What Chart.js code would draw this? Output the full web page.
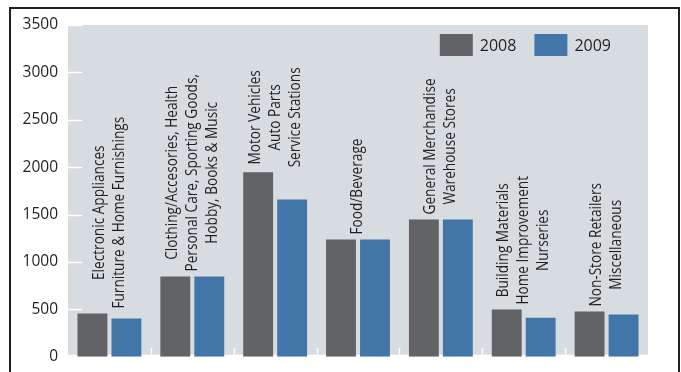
<!DOCTYPE html>
<html>
<head>
<meta charset="utf-8">
<script src="https://cdn.jsdelivr.net/npm/chart.js@4.4.1/dist/chart.umd.min.js"></script>
<style>
  body { margin: 0; background: #fff; }
  #wrap { position: relative; width: 681px; height: 372px; overflow: hidden; }
  #frame { position: absolute; left: 9px; top: 7px; width: 667px; height: 400px;
           border: 2px solid #231f20; border-bottom: none; }
  #myChart { position: absolute; left: 0; top: 0; }
</style>
</head>
<body>
<div id="wrap">
  <div id="frame"></div>
  <!-- a bit taller than the window: the y axis keeps ~19px under the plot -->
  <canvas id="myChart" width="681" height="376"></canvas>
</div>
<script>
const categories = [
  ['Electronic Appliances', 'Furniture & Home Furnishings'],
  ['Clothing/Accesories, Health', 'Personal Care, Sporting Goods,', 'Hobby, Books & Music'],
  ['Motor Vehicles', 'Auto Parts', 'Service Stations'],
  ['Food/Beverage'],
  ['General Merchandise', 'Warehouse Stores'],
  ['Building Materials', 'Home Improvement', 'Nurseries'],
  ['Non-Store Retailers', 'Miscellaneous']
];
const sales2008 = [455, 846, 1945, 1237, 1448, 497, 476];
const sales2009 = [402, 846, 1660, 1237, 1448, 412, 444];
const yMax = 3500;
const yStep = 500;

const FONT = '"Open Sans", sans-serif';
const TEXT = '#231f20';

// gray plot background + white inward ticks
const plotDecor = {
  id: 'plotDecor',
  beforeDraw(chart) {
    const {ctx, chartArea: a, scales: {x, y}} = chart;
    ctx.save();
    ctx.fillStyle = '#d6dcdf';
    ctx.fillRect(a.left, a.top, a.right - a.left, a.bottom - a.top - 2);
    ctx.strokeStyle = '#ffffff';
    ctx.lineWidth = 1.5;
    y.ticks.forEach(t => {
      if (t.value === 0) return;
      const py = Math.round(y.getPixelForValue(t.value)) + 0.5;
      ctx.beginPath();
      ctx.moveTo(a.left - 1, py);
      ctx.lineTo(a.left + 14, py);
      ctx.stroke();
    });
    for (let i = 0; i < categories.length - 1; i++) {
      const px = Math.round((x.getPixelForValue(i) + x.getPixelForValue(i + 1)) / 2) + 0.5;
      ctx.beginPath();
      ctx.moveTo(px, a.bottom - 9);
      ctx.lineTo(px, a.bottom - 2);
      ctx.stroke();
    }
    ctx.restore();
  }
};

// legend inside the plot, top right
const innerLegend = {
  id: 'innerLegend',
  afterDatasetsDraw(chart) {
    const {ctx, chartArea: a} = chart;
    ctx.save();
    ctx.font = '16px ' + FONT;
    ctx.textBaseline = 'middle';
    ctx.textAlign = 'left';
    const sets = chart.data.datasets;
    const bw = 33, bh = 22, gap = 7, space = 18;
    let total = 0;
    sets.forEach((d, i) => {
      total += bw + gap + ctx.measureText(d.label).width + (i ? space : 0);
    });
    let px = a.right - 37 - total;
    const top = a.top + 9;
    sets.forEach(d => {
      ctx.fillStyle = d.backgroundColor;
      ctx.fillRect(px, top, bw, bh);
      ctx.fillStyle = TEXT;
      ctx.fillText(d.label, px + bw + gap, top + bh / 2 + 1);
      px += bw + gap + ctx.measureText(d.label).width + space;
    });
    ctx.restore();
  }
};

// rotated category names above each group (condensed look)
const catLabels = {
  id: 'catLabels',
  afterDatasetsDraw(chart) {
    const {ctx, scales: {x, y}} = chart;
    const squeeze = 0.88;
    ctx.save();
    ctx.font = '15.5px ' + FONT;
    ctx.fillStyle = TEXT;
    ctx.textAlign = 'center';
    ctx.textBaseline = 'middle';
    const lh = 20;
    categories.forEach((lines, i) => {
      const top = y.getPixelForValue(Math.max(sales2008[i], sales2009[i])) - 5;
      const w = Math.max(...lines.map(s => ctx.measureText(s).width));
      ctx.save();
      ctx.translate(x.getPixelForValue(i), top);
      ctx.rotate(-Math.PI / 2);
      ctx.scale(squeeze, 1);
      lines.forEach((s, j) => {
        ctx.fillText(s, w / 2, (j - (lines.length - 1) / 2) * lh);
      });
      ctx.restore();
    });
    ctx.restore();
  }
};

new Chart(document.getElementById('myChart'), {
  type: 'bar',
  data: {
    labels: categories,
    datasets: [{
      label: '2008',
      data: sales2008,
      backgroundColor: '#626366',
      categoryPercentage: 0.82,
      barPercentage: 0.88
    }, {
      label: '2009',
      data: sales2009,
      backgroundColor: '#4376a8',
      categoryPercentage: 0.82,
      barPercentage: 0.88
    }]
  },
  options: {
    responsive: false,
    animation: false,
    layout: { padding: { left: 0, right: 33, top: 25, bottom: 15 } },
    plugins: {
      tooltip: { enabled: false },
      legend: { display: false }
    },
    scales: {
      x: {
        display: false
      },
      y: {
        min: 0,
        max: yMax,
        grid: { display: false, drawTicks: false },
        border: { display: false },
        ticks: {
          stepSize: yStep,
          padding: 10,
          color: TEXT,
          font: { size: 15.5, family: FONT },
          callback: v => String(v)
        },
        afterFit(s) { s.width = 68; }
      }
    }
  },
  plugins: [plotDecor, catLabels, innerLegend]
});
</script>
</body>
</html>
